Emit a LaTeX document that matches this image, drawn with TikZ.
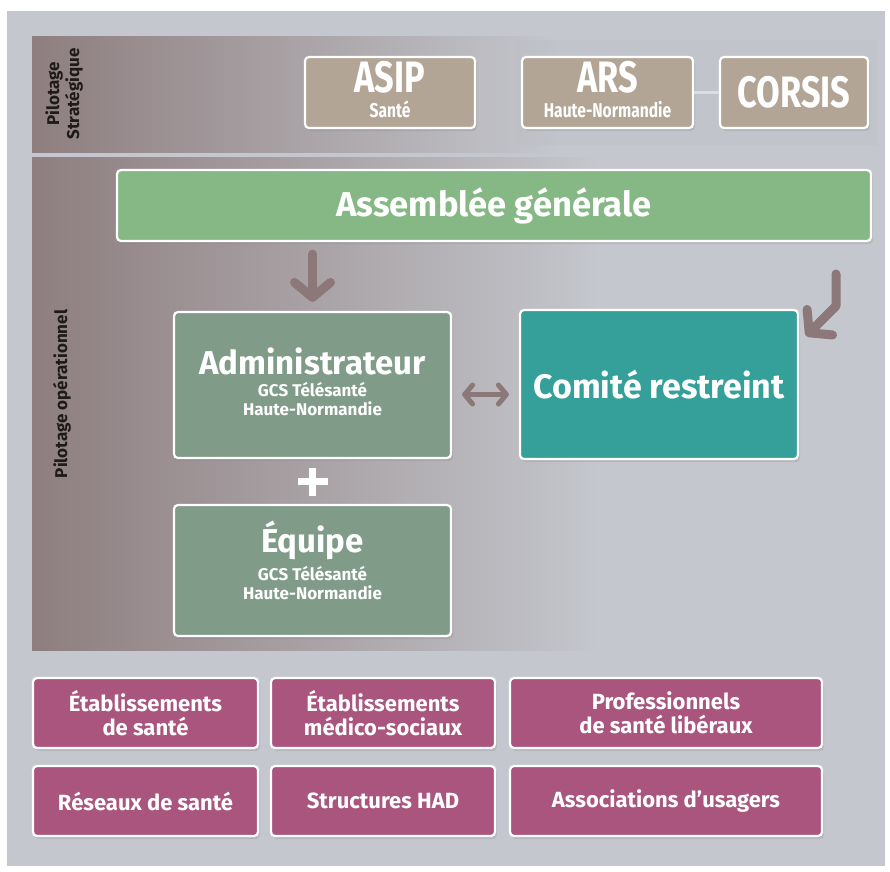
\documentclass[tikz,border=0pt]{standalone}
\usepackage{fontspec}
\setmainfont{Fira Sans}
\newfontfamily\narrowfont{Fira Sans}[FakeStretch=0.78]
\usetikzlibrary{arrows.meta,shadows}
\definecolor{bg}{HTML}{C4C7CD}
\definecolor{mauve}{HTML}{8E7E7F}
\definecolor{mauvemid}{HTML}{A9A2A4}
\definecolor{tanbox}{HTML}{B3A595}
\definecolor{agc}{HTML}{86B886}
\definecolor{gcol}{HTML}{809C88}
\definecolor{tealbox}{HTML}{35A09A}
\definecolor{magbox}{HTML}{A9557D}
\definecolor{arrc}{HTML}{8C7878}
\definecolor{linkc}{HTML}{DCDDE3}
\definecolor{labc}{HTML}{1E1A1A}
\tikzset{
  box/.style={draw=white, line width=2.2pt, rounded corners=4pt, text=white,
    align=center, inner sep=0pt,
    drop shadow={opacity=0.22, shadow xshift=2pt, shadow yshift=-3pt}},
  stratbox/.style={box, fill=tanbox, minimum height=71pt,
    font=\narrowfont\bfseries\fontsize{20}{25}\selectfont},
  greenbox/.style={box, fill=gcol, minimum width=277pt,
    font=\bfseries\fontsize{17}{19}\selectfont},
  magentabox/.style={box, fill=magbox, minimum height=70pt,
    font=\bfseries\fontsize{22}{24}\selectfont},
  bigarrow/.style={arrc, line width=9pt, line cap=round, line join=round,
    -{Straight Barb[length=15pt, width=36pt, round]}},
  smallarrow/.style={arrc, line width=5pt, line cap=round,
    {Straight Barb[length=8pt, width=19pt, round]}-{Straight Barb[length=8pt, width=19pt, round]}},
  bandlabel/.style={rotate=90, text=labc, align=center,
    font=\bfseries\fontsize{17}{20}\selectfont},
}
\newcommand{\stitle}[1]{{\fontsize{44}{44}\selectfont #1}}
\newcommand{\gtitle}[1]{{\fontsize{33}{33}\selectfont #1}}
\begin{document}
\begin{tikzpicture}[x=1pt, y=-1pt]
\useasboundingbox (0,0) rectangle (890,871);
% background
\fill[white] (0,0) rectangle (890,871);
\fill[bg] (7,11) rectangle (885,866);
% bands
\shade[left color=mauve, middle color=mauvemid, right color=bg] (32,36) rectangle (560,152);
\fill[bg!93!black, opacity=0.18] (515,40) rectangle (878,145);
\shade[left color=mauve, middle color=mauvemid, right color=bg] (32,157) rectangle (600,650);
% band labels
\node[bandlabel] (lstrat) at (64,94) {Pilotage\\Stratégique};
\node[bandlabel] (lop) at (62,394) {Pilotage opérationnel};
% strategic boxes
\node[stratbox, minimum width=170pt] (asip) at (390,92.5)
  {\stitle{ASIP}\\Santé\\[-19pt]\mbox{}};
\node[stratbox, minimum width=171pt] (ars) at (607.5,92.5)
  {\stitle{ARS}\\Haute-Normandie\\[-19pt]\mbox{}};
\node[stratbox, minimum width=148pt] (corsis) at (794,92.5)
  {\stitle{CORSIS}};
\draw[linkc, line width=3.5pt] (ars.east) -- (corsis.west);
% operational
\node[box, fill=agc, minimum width=754pt, minimum height=71pt,
  font=\bfseries\fontsize{34.5}{36}\selectfont] (ag) at (494,205.5) {Assemblée générale};
\node[greenbox, minimum height=146pt] (admin) at (312.5,385)
  {\gtitle{Administrateur}\\[3pt]GCS Télésanté\\Haute-Normandie\\[-13pt]\mbox{}};
\node[box, fill=tealbox, minimum width=278pt, minimum height=149pt,
  font=\bfseries\fontsize{34}{36}\selectfont] (comite) at (659,384.5) {Comité restreint};
\node[greenbox, minimum height=131pt] (equipe) at (312.5,570.5)
  {\gtitle{Équipe}\\[5pt]GCS Télésanté\\Haute-Normandie\\[2pt]\mbox{}};
% arrows
\draw[bigarrow, shorten <=12pt, shorten >=9pt] (ag.south -| admin.north) -- (admin.north);
\coordinate (lstart) at (836,274);
\coordinate (lbend) at (836,306);
\coordinate (ltip) at (806,336);
\draw[bigarrow] (lstart) -- (lbend) -- (ltip);
\path (admin.east |- comite) ++(0,10) coordinate (dstart);
\draw[smallarrow, shorten <=10pt, shorten >=10pt] (dstart) -- (dstart -| comite.west);
% plus sign
\path (admin.south) -- (equipe.north) coordinate[midway] (plus);
\draw[white, line width=6.5pt] ([xshift=-15pt]plus) -- ([xshift=15pt]plus)
  ([yshift=-14pt]plus) -- ([yshift=14pt]plus);
% bottom boxes
\node[magentabox, minimum width=225pt] (etab) at (145.5,713) {Établissements\\de santé};
\node[magentabox, minimum width=224pt] (medico) at (383,713) {Établissements\\médico-sociaux};
\node[magentabox, minimum width=312pt] (prof) at (666,713) {Professionnels\\de santé libéraux};
\node[magentabox, minimum width=225pt] (reseaux) at (145.5,801) {Réseaux de santé};
\node[magentabox, minimum width=224pt] (had) at (383,801) {Structures HAD};
\node[magentabox, minimum width=312pt] (assoc) at (666,801) {Associations d’usagers};
\end{tikzpicture}
\end{document}
